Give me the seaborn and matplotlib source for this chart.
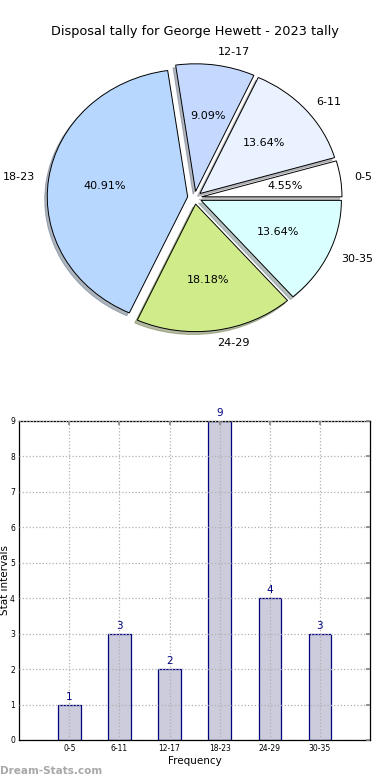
import matplotlib
matplotlib.use("Agg")
import matplotlib.pyplot as plt
import seaborn as sns
import pandas as pd

categories = ["0-5", "6-11", "12-17", "18-23", "24-29", "30-35"]
counts = [1, 3, 2, 9, 4, 3]
pie_colors = ["#ffffff", "#ebf2ff", "#c5d9ff", "#b7d7ff", "#d0eb8a", "#d9ffff"]
title = "Disposal tally for George Hewett - 2023 tally"
yticks = list(range(0, 10))

sns.set_theme(style="white")
plt.rcParams['font.family'] = ['DejaVu Sans']
plt.rcParams.update({"text.color": "black", "axes.labelcolor": "black",
                     "xtick.labelcolor": "black", "ytick.labelcolor": "black"})

fig = plt.figure(figsize=(3.9, 7.8), dpi=100)
fig.patch.set_facecolor("white")

# ---- pie ----
ax1 = fig.add_axes([0.049, 0.542, 0.9, 0.409])
wedges, texts, autotexts = ax1.pie(
    counts, labels=categories, colors=pie_colors, explode=[0.05] * len(counts),
    autopct="%1.2f%%", shadow=dict(ox=-0.013, oy=-0.016, shade=0.5),
    startangle=0, counterclock=True,
    wedgeprops=dict(edgecolor="black", linewidth=0.7),
    textprops=dict(fontsize=8, color="black"))
ax1.set_aspect("auto")
ax1.set_xlim(-1.25, 1.25)
ax1.set_ylim(-1.25, 1.25)
ax1.set_title(title, fontsize=9.3, pad=2, color="black")

# ---- bars ----
ax2 = fig.add_axes([0.049, 0.0513, 0.9, 0.409])
df = pd.DataFrame({"cat": categories, "val": counts})
sns.barplot(data=df, x="cat", y="val", ax=ax2, color="#ccccdd", saturation=1,
            edgecolor="#000080", linewidth=0.9, width=0.45)
ax2.set_xlim(-1, 6)
ax2.set_ylim(0, 9)
ax2.set_yticks(yticks)
ax2.grid(True, linestyle=":", color="#b0b0b0", linewidth=0.9)
ax2.set_axisbelow(False)
for c in ax2.containers:
    ax2.bar_label(c, padding=2, fontsize=7.5, color="#000080")
ax2.tick_params(axis="both", labelsize=5.5, direction="in", length=3,
                top=True, right=True, color="#888888", pad=3)
for s in ax2.spines.values():
    s.set_color("black")
    s.set_linewidth(0.9)
ax2.set_xlabel("Frequency", fontsize=7.5, labelpad=2)
ax2.set_ylabel("Stat intervals", fontsize=7.5, labelpad=0)

fig.text(0.0, 1 - 771 / 780, "Dream-Stats.com", fontsize=7.5, color="#a8a8a8",
         ha="left", va="center", fontweight="bold")

fig.savefig("out.png", dpi=100, facecolor="white")
